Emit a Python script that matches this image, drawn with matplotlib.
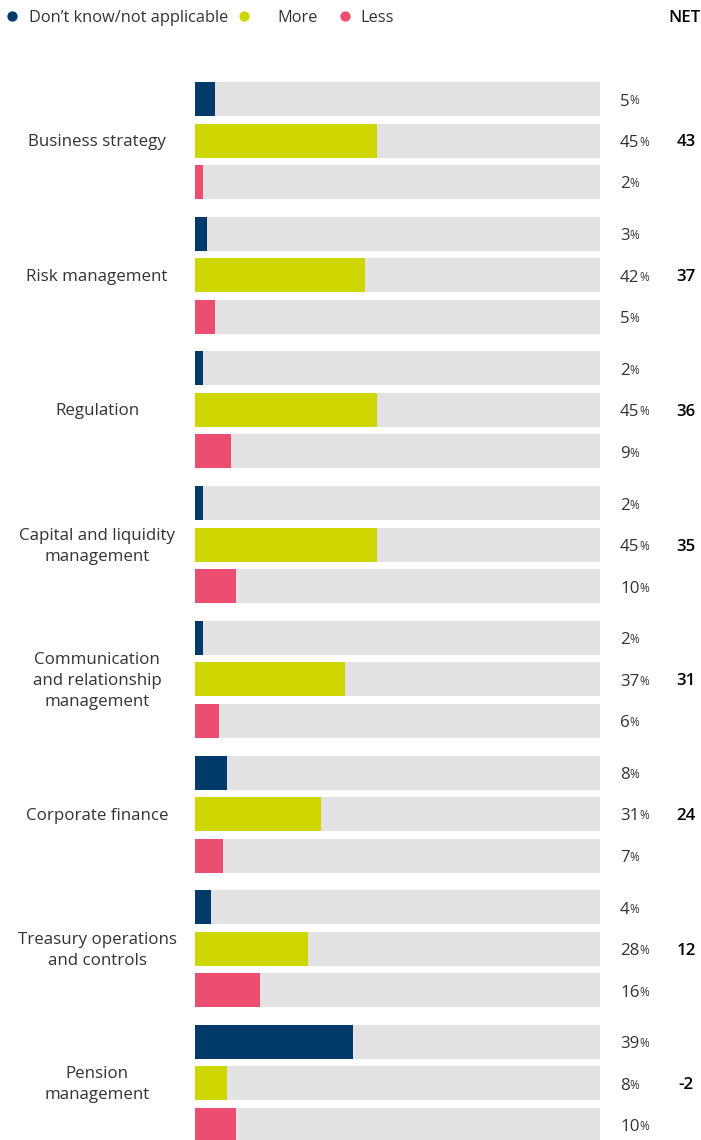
import matplotlib.pyplot as plt

plt.rcParams['font.family'] = ['Open Sans', 'DejaVu Sans']

categories = ["Business strategy", "Risk management", "Regulation",
              "Capital and liquidity\nmanagement",
              "Communication\nand relationship\nmanagement",
              "Corporate finance", "Treasury operations\nand controls",
              "Pension\nmanagement"]
dont_know = [5, 3, 2, 2, 2, 8, 4, 39]
more = [45, 42, 45, 45, 37, 31, 28, 8]
less = [2, 5, 9, 10, 6, 7, 16, 10]
net = [43, 37, 36, 35, 31, 24, 12, -2]

series = [dont_know, more, less]
colors = ['#003a6b', '#ced600', '#ec4e72']
names = ["Don\u2019t know/not applicable", "More", "Less"]
grey = '#e2e2e2'
txt = '#333333'

W, H = 701, 1140
fig = plt.figure(figsize=(W / 100, H / 100), dpi=100)
ax = fig.add_axes([0, 0, 1, 1])
# x in percent: 0 at px 195, 100 at px 600
px = 405 / 100
x0 = 195
ax.set_xlim(-x0 / px, (W - x0) / px)
ax.set_ylim(H, 0)
ax.axis('off')

group_top = 82
group_step = 134.7
bar_step = 41.5
bar_h = 34
fs = 12.2

for i, cat in enumerate(categories):
    top = group_top + i * group_step
    for j, vals in enumerate(series):
        yc = top + bar_h / 2 + j * bar_step
        ax.barh(yc, 100, height=bar_h, color=grey, left=0)
        ax.barh(yc, vals[i], height=bar_h, color=colors[j], left=0)
        t = ax.text((620 - x0) / px, yc + 6.5, str(vals[i]), fontsize=fs,
                    color=txt, ha='left', va='baseline')
        ax.annotate('%', xy=(1, 0), xycoords=t, xytext=(0, 1.5),
                    textcoords='offset points', fontsize=8.5, color=txt,
                    ha='left', va='bottom')
    ymid = top + bar_h / 2 + bar_step
    ax.text((97 - x0) / px, ymid + 1.5, cat, fontsize=fs, color=txt,
            ha='center', va='center', linespacing=1.42)
    ax.text((686 - x0) / px, ymid, str(net[i]), fontsize=fs,
            color='black', fontweight='semibold', ha='center',
            va='center_baseline')

# legend row
leg_dots = [12, 244, 345]
leg_text = [29, 277, 360]
for j in range(3):
    ax.scatter((leg_dots[j] - x0) / px, 16, s=55, color=colors[j],
               clip_on=False, linewidths=0)
    ax.text((leg_text[j] - x0) / px, 16, names[j], fontsize=11.8, color=txt,
            ha='left', va='center_baseline')
ax.text((668 - x0) / px, 16, "NET", fontsize=fs, color='black',
        fontweight='semibold', ha='left', va='center_baseline')

fig.savefig('out.png', dpi=100)
